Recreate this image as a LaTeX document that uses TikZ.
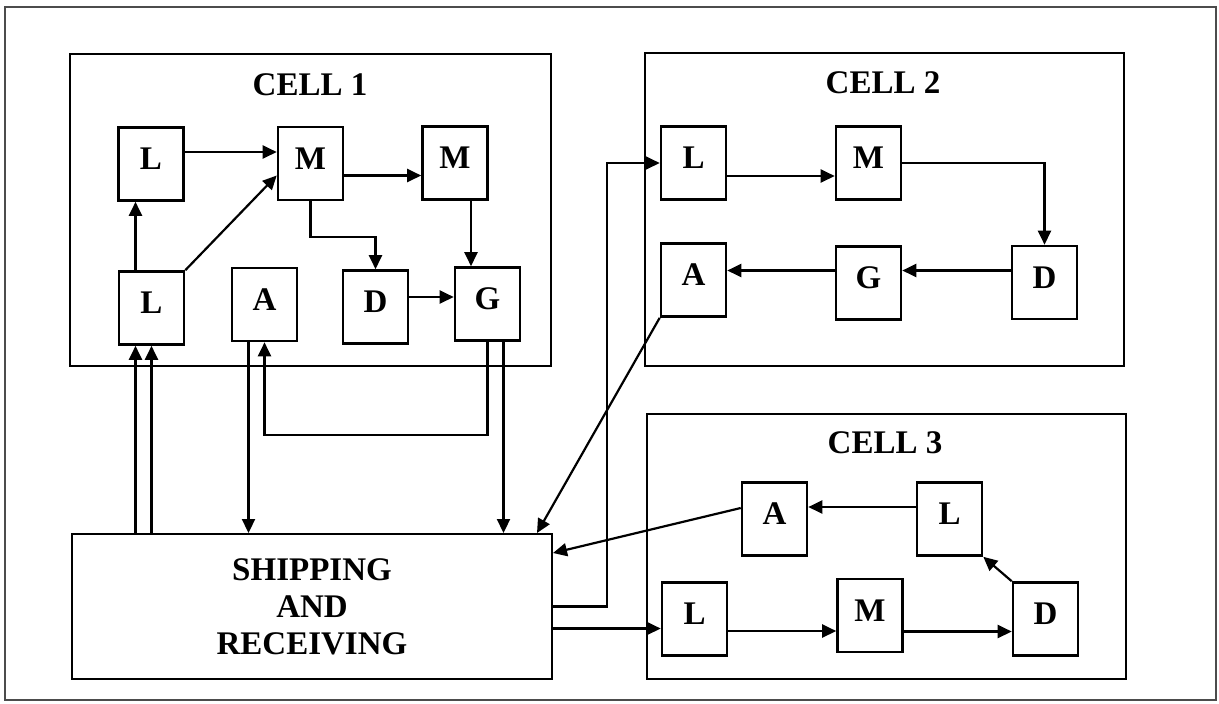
\documentclass[tikz,border=0pt]{standalone}
\usepackage{fontspec}
\setmainfont{Liberation Serif}
\usetikzlibrary{positioning,calc,arrows.meta}

\begin{document}
\begin{tikzpicture}[
  x=0.5pt, y=-0.5pt,
  every node/.style={font=\fontsize{16.5}{18.5}\selectfont\bfseries},
  station/.style={draw, line width=1.3pt, minimum width=32.5pt, minimum height=36.5pt, inner sep=1pt, text depth=5pt},
  dock/.style={draw, line width=1pt, minimum width=240pt, minimum height=72.5pt, align=center},
  cellframe/.style={line width=0.8pt},
  flow/.style={draw, line width=1.1pt, -{Triangle[length=7pt,width=6.5pt]}}
]
\useasboundingbox (0,0) rectangle (1219,703);
\draw[line width=0.7pt, black!70] (5,7) rectangle (1216,700);

% cells
\draw[cellframe] (70,54) rectangle (551,366);
\draw[cellframe] (645,53) rectangle (1124,366);
\draw[cellframe] (647,414) rectangle (1126,679);
\node (title1) at (310,85) {CELL 1};
\node (title2) at (883,83) {CELL 2};
\node (title3) at (885,443) {CELL 3};

% cell 1
\node[station] (l1a) at (151,164) {L};
\node[station] (m1a) at (310.5,163.5) {M};
\node[station] (m1b) at (455,163) {M};
\node[station] (l1b) at (151.5,308) {L};
\node[station] (a1) at (264.5,304.5) {A};
\node[station] (d1) at (375.5,307) {D};
\node[station] (g1) at (487.5,304) {G};

% cell 2
\node[station] (l2) at (693.5,163) {L};
\node[station] (m2) at (868.5,163) {M};
\node[station] (d2) at (1044.5,282.5) {D};
\node[station] (g2) at (868.5,283) {G};
\node[station] (a2) at (693.5,280) {A};

% cell 3
\node[station] (a3) at (774.5,519) {A};
\node[station] (l3b) at (949.5,519) {L};
\node[station] (l3) at (694.5,619) {L};
\node[station] (m3) at (870,615.5) {M};
\node[station] (d3) at (1045.5,619) {D};

\node[dock] (sr) at (312,606.5) {SHIPPING\\AND\\RECEIVING};

\coordinate (drop1) at (0,237);
\coordinate (loop1) at (0,435);
\coordinate (riser2) at (607,0);

% flows in cell 1
\draw[flow] ([yshift=6pt]l1a.east) -- ([yshift=6pt]l1a.east -| m1a.west);
\draw[flow] ([yshift=-6pt]m1a.east) -- ([yshift=-6pt]m1a.east -| m1b.west);
\draw[flow] ([xshift=-8pt]l1b.north) -- ([xshift=-8pt]l1b.north |- l1a.south);
\draw[flow] (l1b.north east) -- ([yshift=-6pt]m1a.west);
\draw[flow] (m1a.south) -- (m1a.south |- drop1) -| (d1.north);
\draw[flow] ([xshift=8pt]m1b.south) -- ([xshift=8pt]m1b.south |- g1.north);
\draw[flow] ([yshift=5pt]d1.east) -- ([yshift=5pt]d1.east -| g1.west);
\draw[flow] (g1.south) |- (a1.south |- loop1) -- (a1.south);

% shipping and receiving to cell 1
\draw[flow] ([xshift=-8pt]l1b.south |- sr.north) -- ([xshift=-8pt]l1b.south);
\draw[flow] (l1b.south |- sr.north) -- (l1b.south);
\draw[flow] ([xshift=-8pt]a1.south) -- ([xshift=-8pt]a1.south |- sr.north);
\draw[flow] ([xshift=8pt]g1.south) -- ([xshift=8pt]g1.south |- sr.north);

% flows in cell 2
\draw[flow] (sr.east) -- (sr.east -| riser2) |- (l2.west);
\draw[flow] ([yshift=-6.5pt]l2.east) -- ([yshift=-6.5pt]l2.east -| m2.west);
\draw[flow] (m2.east) -| (d2.north);
\draw[flow] ([yshift=6pt]d2.west) -- ([yshift=6pt]d2.west -| g2.east);
\draw[flow] ([yshift=6pt]d2.west -| g2.west) -- ([yshift=6pt]d2.west -| a2.east);
\draw[flow] (a2.south west) -- ([xshift=-8pt]sr.north east);

% flows in cell 3
\draw[flow] ([yshift=-11pt]sr.east) -- ([yshift=-11pt]sr.east -| l3.west);
\draw[flow] ([yshift=-6pt]l3.east) -- ([yshift=-6pt]l3.east -| m3.west);
\draw[flow] ([yshift=-8pt]m3.east) -- ([yshift=-8pt]m3.east -| d3.west);
\draw[flow] (d3.north west) -- (l3b.south east);
\draw[flow] ([yshift=6pt]l3b.west) -- ([yshift=6pt]l3b.west -| a3.east);
\draw[flow] ([yshift=5.5pt]a3.west) -- ([yshift=-10pt]sr.north east);
\end{tikzpicture}
\end{document}
